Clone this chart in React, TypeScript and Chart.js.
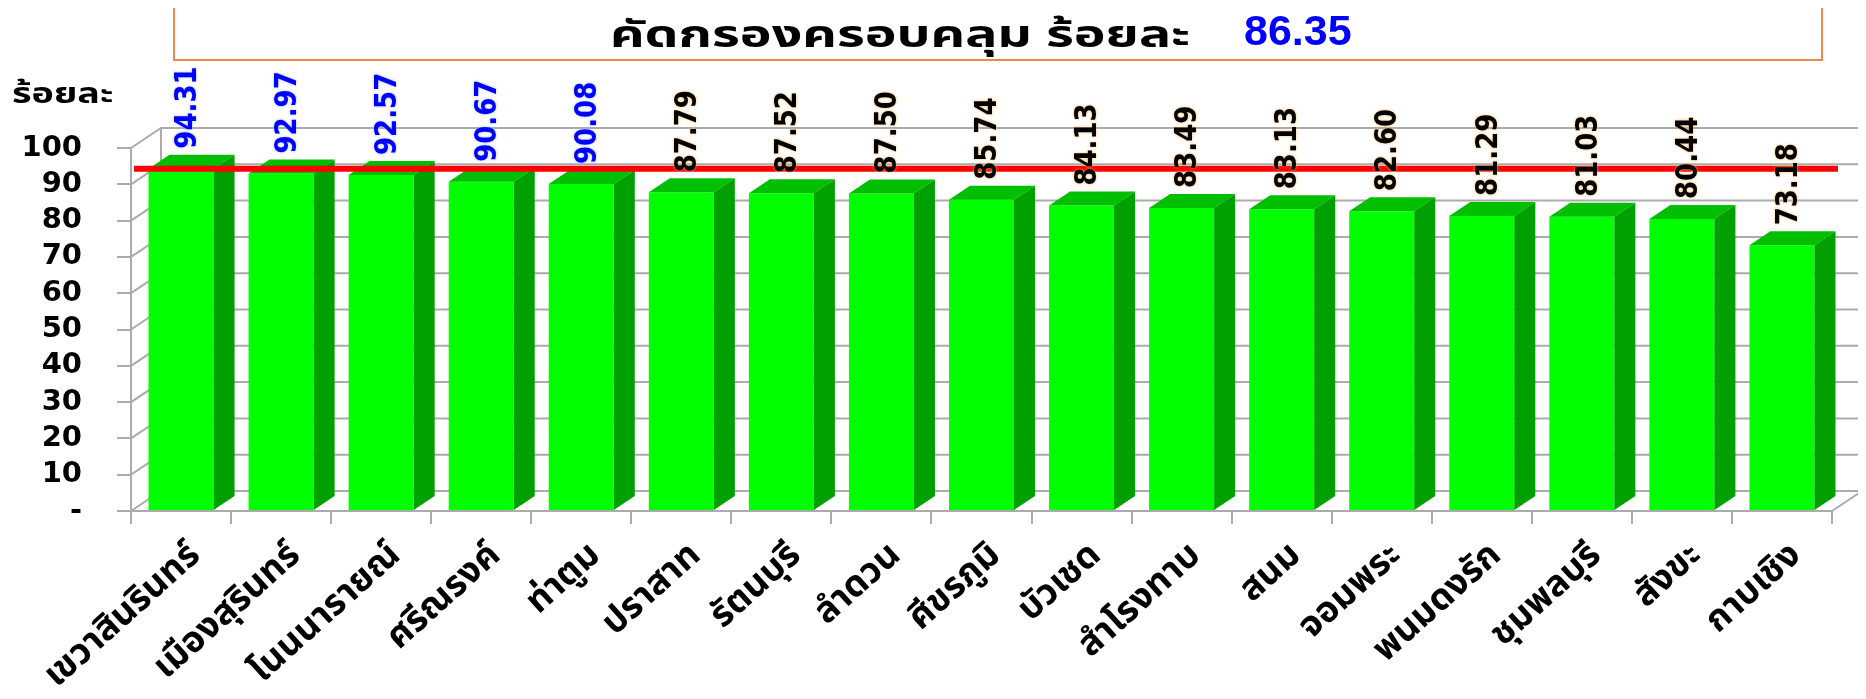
import React, { useEffect, useRef } from 'react';
import { Chart, registerables } from 'chart.js';

Chart.register(...registerables);

// ---------- data ----------
const categories = [
  'เขวาสินรินทร์', 'เมืองสุรินทร์', 'โนนนารายณ์', 'ศรีณรงค์', 'ท่าตูม', 'ปราสาท',
  'รัตนบุรี', 'ลำดวน', 'ศีขรภูมิ', 'บัวเชด', 'สำโรงทาบ', 'สนม', 'จอมพระ',
  'พนมดงรัก', 'ชุมพลบุรี', 'สังขะ', 'กาบเชิง',
];
const coverage = [
  94.31, 92.97, 92.57, 90.67, 90.08, 87.79, 87.52, 87.50, 85.74,
  84.13, 83.49, 83.13, 82.60, 81.29, 81.03, 80.44, 73.18,
];
const labelColors = [
  '#0000FF', '#0000FF', '#0000FF', '#0000FF', '#0000FF',
  '#000000', '#000000', '#000000', '#000000', '#000000', '#000000',
  '#000000', '#000000', '#000000', '#000000', '#000000', '#000000',
];
const targetValue = 94.3;
const overallRate = '86.35';
const titleText = 'คัดกรองครอบคลุม ร้อยละ';
const yAxisTitle = 'ร้อยละ';
const yMin = 0;
const yMax = 100;
const yStep = 10;

// ---------- styles ----------
const THAI_FONT = "Tahoma, 'Noto Sans Thai', 'Noto Sans Thai UI', 'Leelawadee UI', 'Noto Sans', sans-serif";
const NUM_FONT = "'DejaVu Sans', sans-serif";
const TITLE_NUM_FONT = "'Liberation Sans', Arial, sans-serif";
const WALL = { dx: 30, dy: -20 };
const BAR = { dx: 21, dy: -14 };
const GRID = '#ABABAB';

const threeD = {
  id: 'threeD',
  beforeDatasetsDraw(chart: any) {
    const { ctx, chartArea: a, scales } = chart;
    const y = scales.y;
    ctx.save();
    ctx.strokeStyle = GRID;
    ctx.lineWidth = 2;
    for (let v = yMin; v <= yMax; v += yStep) {
      const py = y.getPixelForValue(v);
      ctx.beginPath();
      ctx.moveTo(a.left, py);
      ctx.lineTo(a.left + WALL.dx, py + WALL.dy);
      ctx.lineTo(a.right + WALL.dx, py + WALL.dy);
      ctx.stroke();
    }
    ctx.beginPath();
    ctx.moveTo(a.right, a.bottom);
    ctx.lineTo(a.right + WALL.dx, a.bottom + WALL.dy);
    ctx.stroke();
    ctx.beginPath();
    ctx.moveTo(a.left + WALL.dx, y.getPixelForValue(yMax) + WALL.dy);
    ctx.lineTo(a.left + WALL.dx, a.bottom + WALL.dy);
    ctx.stroke();
    ctx.restore();
  },
  afterDatasetDraw(chart: any, args: any) {
    if (args.index !== 0) return;
    const { ctx } = chart;
    const meta = chart.getDatasetMeta(0);
    ctx.save();
    meta.data.forEach((bar: any) => {
      const { x, y, base, width } = bar.getProps(['x', 'y', 'base', 'width'], true);
      const l = x - width / 2;
      const r = x + width / 2;
      ctx.fillStyle = '#00BE00';
      ctx.beginPath();
      ctx.moveTo(l, y);
      ctx.lineTo(l + BAR.dx, y + BAR.dy);
      ctx.lineTo(r + BAR.dx, y + BAR.dy);
      ctx.lineTo(r, y);
      ctx.closePath();
      ctx.fill();
      ctx.fillStyle = '#00A000';
      ctx.beginPath();
      ctx.moveTo(r, y);
      ctx.lineTo(r + BAR.dx, y + BAR.dy);
      ctx.lineTo(r + BAR.dx, base + BAR.dy);
      ctx.lineTo(r, base);
      ctx.closePath();
      ctx.fill();
    });
    ctx.restore();
  },
  afterDatasetsDraw(chart: any) {
    const { ctx, chartArea: a, scales } = chart;
    const y = scales.y;
    // target line
    const ty = y.getPixelForValue(targetValue);
    ctx.save();
    ctx.strokeStyle = '#FF0000';
    ctx.lineWidth = 6;
    ctx.beginPath();
    ctx.moveTo(a.left + 3, ty);
    ctx.lineTo(a.right + 6, ty);
    ctx.stroke();
    // data labels
    const meta = chart.getDatasetMeta(0);
    ctx.font = `bold 26px ${NUM_FONT}`;
    ctx.textAlign = 'left';
    ctx.textBaseline = 'middle';
    meta.data.forEach((bar: any, i: number) => {
      const { x, y: by } = bar.getProps(['x', 'y'], true);
      ctx.save();
      ctx.translate(x + 7, by - 20);
      ctx.scale(1.15, 1);
      ctx.rotate(-Math.PI / 2);
      ctx.shadowColor = i < 5 ? 'rgba(160,190,255,0.95)' : 'rgba(255,180,80,0.95)';
      ctx.shadowBlur = 3;
      ctx.fillStyle = labelColors[i];
      ctx.fillText(coverage[i].toFixed(2), 0, 0);
      ctx.restore();
    });
    ctx.restore();
  },
};

export default function App() {
  const ref = useRef<HTMLCanvasElement | null>(null);

  useEffect(() => {
    if (!ref.current) return;
    const chart = new Chart(ref.current, {
      type: 'bar',
      data: {
        labels: categories,
        datasets: [
          {
            label: 'coverage',
            data: coverage,
            backgroundColor: '#00FF00',
            borderWidth: 0,
            barPercentage: 0.65,
            categoryPercentage: 1,
          },
        ],
      },
      options: {
        responsive: false,
        animation: false,
        events: [],
        layout: { padding: { top: 140, right: 34, left: 0, bottom: 0 } },
        plugins: { legend: { display: false }, tooltip: { enabled: false }, title: { display: false } },
        scales: {
          x: {
            offset: true,
            grid: { offset: true, drawOnChartArea: false, drawTicks: true, tickLength: 13, color: GRID, lineWidth: 2 },
            border: { display: true, color: GRID, width: 2 },
            ticks: {
              autoSkip: false,
              maxRotation: 42,
              minRotation: 42,
              padding: 12,
              labelOffset: 16,
              color: '#000000',
              font: { family: THAI_FONT, size: 36, weight: 'bold' },
            },
            afterFit(scale: any) {
              scale.height = 188;
              scale.paddingLeft = 0;
              scale.paddingRight = 0;
            },
          },
          y: {
            min: yMin,
            max: yMax,
            ticks: {
              stepSize: yStep,
              autoSkip: false,
              padding: 35,
              color: '#000000',
              font: { family: NUM_FONT, size: 29, weight: 'bold' },
              callback: (v: any) => (v === 0 ? '-' : String(v)),
            },
            grid: { drawOnChartArea: false, drawTicks: true, tickLength: 14, color: GRID, lineWidth: 2 },
            border: { display: true, color: GRID, width: 2 },
            afterFit(scale: any) {
              scale.width = 123;
            },
          },
        },
      },
      plugins: [threeD],
    } as any);
    return () => chart.destroy();
  }, []);

  return (
    <div style={{ position: 'relative', width: 1858, height: 691 }}>
      <canvas ref={ref} width={1858} height={691} style={{ position: 'absolute', left: 0, top: 0 }} />
      <div
        style={{
          position: 'absolute', left: 165, top: -20, width: 1650, height: 73,
          border: '2px solid #F0874A', boxSizing: 'border-box',
        }}
      />
      <div
        style={{
          position: 'absolute', right: 1858 - 1182, top: 3, lineHeight: '50px', whiteSpace: 'nowrap',
          fontFamily: THAI_FONT, fontSize: 37, fontWeight: 'bold', color: '#000000',
          transform: 'scaleX(1.45)', transformOrigin: 'right center',
        }}
      >
        {titleText}
      </div>
      <div
        style={{
          position: 'absolute', left: 1236, top: -3, lineHeight: '50px', whiteSpace: 'nowrap',
          fontFamily: TITLE_NUM_FONT, fontSize: 43, fontWeight: 'bold', color: '#0000FF',
        }}
      >
        {overallRate}
      </div>
      <div
        style={{
          position: 'absolute', left: 4, top: 65, lineHeight: '42px', fontFamily: THAI_FONT, fontSize: 29,
          fontWeight: 'bold', color: '#000000', whiteSpace: 'nowrap',
          transform: 'scaleX(1.3)', transformOrigin: 'left center',
        }}
      >
        {yAxisTitle}
      </div>
    </div>
  );
}
